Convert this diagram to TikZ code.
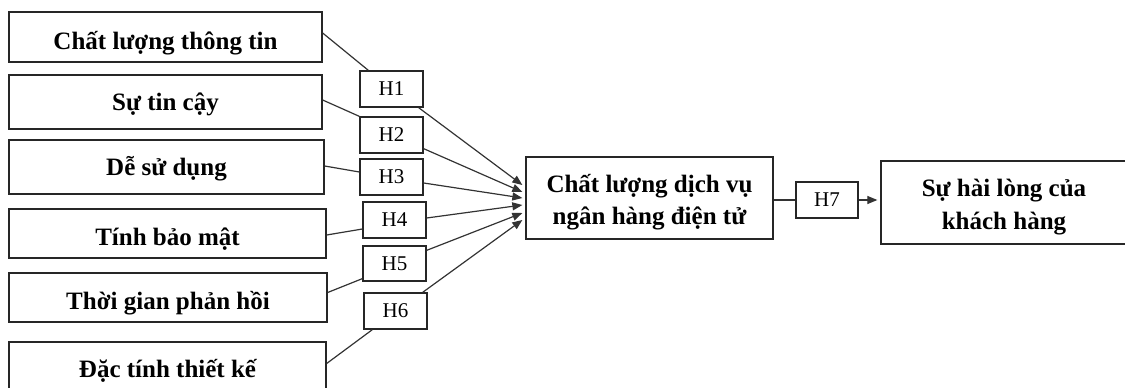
\documentclass[tikz,border=0pt]{standalone}
\usepackage{fontspec}
\setmainfont{Liberation Serif}
\usetikzlibrary{arrows.meta,calc}
\tikzset{
  factor/.style={draw=black!85, line width=1.3pt, inner sep=0pt, text depth=0pt, font=\fontsize{25}{32}\selectfont\bfseries, align=center},
  hbox/.style={draw=black!85, line width=1.3pt, inner sep=0pt, minimum width=63pt, minimum height=36pt, font=\fontsize{21}{25}\selectfont},
  link/.style={draw=black!80, line width=1.2pt},
  arr/.style={link, -{Triangle[length=10pt,width=8pt]}}
}
\newcommand{\topstrut}{\rule{0pt}{27.5pt}}
\begin{document}
\begin{tikzpicture}[x=1pt,y=-1pt]
\useasboundingbox (0,0) rectangle (1125,388);
\clip (0,0) rectangle (1125,388);
% factor boxes
\node[factor, minimum width=313pt, minimum height=50pt, text height=24pt] (b1) at (165.5,37) {Chất lượng thông tin};
\node[factor, minimum width=313pt, minimum height=54pt, text height=17.4pt] (b2) at (165.5,102) {Sự tin cậy};
\node[factor, minimum width=315pt, minimum height=54pt, text height=17.4pt] (b3) at (166.5,167) {Dễ sử dụng};
\node[factor, minimum width=317pt, minimum height=49pt, text height=24pt] (b4) at (167.5,233.5) {Tính bảo mật};
\node[factor, minimum width=318pt, minimum height=49pt, text height=23pt] (b5) at (168,297.5) {Thời gian phản hồi};
\node[factor, minimum width=317pt, minimum height=55pt, text height=16.4pt] (b6) at (167.5,369.5) {Đặc tính thiết kế};
% hypothesis boxes
\node[hbox] (h1) at (391.5,89) {H1};
\node[hbox] (h2) at (391.5,135) {H2};
\node[hbox] (h3) at (391.5,177) {H3};
\node[hbox] (h4) at (394.5,220) {H4};
\node[hbox, minimum height=35pt] (h5) at (394.5,263.5) {H5};
\node[hbox] (h6) at (395.5,311) {H6};
% centre and outcome
\node[factor, text depth=, minimum width=247pt, minimum height=82pt] (c) at (649.5,198) {\topstrut Chất lượng dịch vụ\\ngân hàng điện tử};
\node[hbox, minimum width=62pt] (h7) at (827,200) {H7};
\node[factor, text depth=, minimum width=246pt, minimum height=83pt, font=\fontsize{25}{33}\selectfont\bfseries] (r) at (1004,202.5) {\topstrut Sự hài lòng của\\khách hàng};
% arrow targets
\coordinate (t1) at ($(c.west)+(-3,-13)$);
\coordinate (t2) at ($(c.west)+(-3,-6)$);
\coordinate (t3) at ($(c.west)+(-3,0)$);
\coordinate (t4) at ($(c.west)+(-3,7)$);
\coordinate (t5) at ($(c.west)+(-3,15)$);
\coordinate (t6) at ($(c.west)+(-3,22)$);
% box to hypothesis
\draw[link] ([yshift=4pt]b1.east) -- ([xshift=9pt]h1.north west);
\draw[link] ([yshift=2pt]b2.east) -- (h2.north west);
\draw[link] ([yshift=1pt]b3.east) -- ([yshift=5pt]h3.west);
\draw[link] ([yshift=-1.5pt]b4.east) -- ([yshift=-9pt]h4.west);
\draw[link] ([yshift=5pt]b5.east) -- ([yshift=3pt]h5.south west);
\draw[link] ([yshift=6pt]b6.east) -- ([xshift=9pt]h6.south west);
% hypothesis to centre
\draw[arr] ([xshift=-5pt]h1.south east) -- (t1);
\draw[arr] ([yshift=5pt]h2.south east) -- (t2);
\draw[arr] ([yshift=-6pt]h3.east) -- (t3);
\draw[arr] ([yshift=2pt]h4.east) -- (t4);
\draw[arr] ([yshift=-5pt]h5.north east) -- (t5);
\draw[arr] ([xshift=-5pt]h6.north east) -- (t6);
% centre to outcome
\draw[link] (h7.west -| c.east) -- (h7.west);
\draw[arr, shorten >=3pt] (h7.east) -- (h7.east -| r.west);
\end{tikzpicture}
\end{document}
